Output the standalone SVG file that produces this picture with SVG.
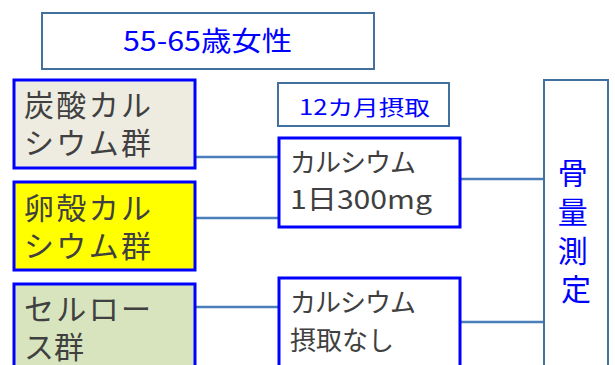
<svg xmlns="http://www.w3.org/2000/svg" width="615" height="365" viewBox="0 0 615 365">
<style>
text{font-family:"Noto Sans CJK JP","Noto Sans",sans-serif}
.hdr{fill:#ffffff;stroke:#41719c;stroke-width:2}
.grp{stroke:#0000ff;stroke-width:3}
.g{fill:#404040;font-size:30px}
.c{fill:#404040;font-size:26px}
.b{fill:#0000ff}
.conn{stroke:#4a7ebb;stroke-width:2.5;fill:none}
</style>
<rect width="615" height="365" fill="#ffffff"/>
<g id="connectors">
<line class="conn" x1="195" y1="157" x2="279" y2="157"/>
<line class="conn" x1="195" y1="218" x2="279" y2="218"/>
<line class="conn" x1="195" y1="307" x2="279" y2="307"/>
<line class="conn" x1="460" y1="179" x2="544" y2="179"/>
<line class="conn" x1="460" y1="322" x2="544" y2="322"/>
</g>
<g id="title">
<rect class="hdr" x="42" y="13" width="332" height="56"/>
<text class="b" x="123" y="51" font-size="27" textLength="169" lengthAdjust="spacingAndGlyphs">55-65歳女性</text>
</g>
<g id="period">
<rect class="hdr" x="278" y="83" width="171" height="43"/>
<text class="b" x="299" y="115" font-size="21" textLength="131" lengthAdjust="spacingAndGlyphs">12カ月摂取</text>
</g>
<g id="group1">
<rect class="grp" x="14" y="80" width="181" height="88" fill="#eeece1"/>
<text class="g" x="24" y="116" textLength="127">炭酸カル</text>
<text class="g" x="24" y="154" textLength="127">シウム群</text>
</g>
<g id="group2">
<rect class="grp" x="14" y="182" width="181" height="88" fill="#ffff00"/>
<text class="g" x="24" y="219" textLength="127">卵殻カル</text>
<text class="g" x="24" y="257" textLength="127">シウム群</text>
</g>
<g id="group3">
<rect class="grp" x="14" y="284" width="181" height="90" fill="#d7e4bd"/>
<text class="g" x="24" y="320" textLength="127">セルロー</text>
<text class="g" x="24" y="358">ス群</text>
</g>
<g id="calcium300">
<rect class="grp" x="279" y="138" width="181" height="89" fill="#ffffff"/>
<text class="c" x="290" y="172" textLength="126">カルシウム</text>
<text class="c" x="290" y="209" textLength="142" lengthAdjust="spacingAndGlyphs">1日300mg</text>
</g>
<g id="calciumNone">
<rect class="grp" x="279" y="278" width="181" height="96" fill="#ffffff"/>
<text class="c" x="290" y="312" textLength="126">カルシウム</text>
<text class="c" x="290" y="350" textLength="104">摂取なし</text>
</g>
<g id="boneMeasure">
<rect class="hdr" x="544" y="80" width="64" height="294"/>
<text class="b" font-size="30" text-anchor="middle">
<tspan x="576" y="184">骨</tspan>
<tspan x="576" y="223">量</tspan>
<tspan x="576" y="262">測</tspan>
<tspan x="576" y="300">定</tspan>
</text>
</g>
</svg>
